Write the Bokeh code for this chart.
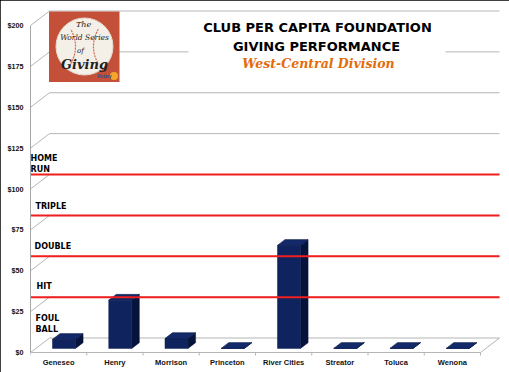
from bokeh.plotting import figure
from bokeh.models import Range1d, FixedTicker
from bokeh.core.properties import value
from bokeh.embed import file_html
from bokeh.resources import INLINE

# ---------------- data ----------------
categories = ["Geneseo", "Henry", "Morrison", "Princeton", "River Cities",
              "Streator", "Toluca", "Wenona"]
giving = [5.5, 29.5, 6.0, 0.0, 63.0, 0.0, 0.0, 0.0]
y_ticks = [0, 25, 50, 75, 100, 125, 150, 175, 200]
y_tick_labels = ["$0", "$25", "$50", "$75", "$100", "$125", "$150", "$175", "$200"]
thresholds = [25, 50, 75, 100]
zone_floors = [0, 25, 50, 75, 100]
zone_names = ["FOUL BALL", "HIT", "DOUBLE", "TRIPLE", "HOME RUN"]
title_lines = ["CLUB PER CAPITA FOUNDATION", "GIVING PERFORMANCE"]
subtitle = "West-Central Division"
logo_lines = ["The", "World Series", "of", "Giving"]

# ---------------- geometry (pseudo-3D) ----------------
PXX = 56.25   # px per category
PXY = 1.635   # px per dollar
DX = 19 / PXX     # depth shift in x (data units)
DY = 14.5 / PXY   # depth shift in y (data units)


def X(px):   # page px -> data x
    return (px - 30) / PXX


def Y(py):   # page py -> data y
    return (352 - py) / PXY


p = figure(width=509, height=372, output_backend="svg", toolbar_location=None,
           x_range=Range1d(0, X(503)), y_range=Range1d(Y(356), Y(4)),
           min_border_left=30, min_border_right=6, min_border_top=4,
           min_border_bottom=16, background_fill_color="white",
           border_fill_color="white", outline_line_color=None,
           styles={"outline": "2px solid black", "outline-offset": "-2px"})
p.xgrid.visible = False
p.ygrid.visible = False

n = len(categories)

# left axis (front)
ya = p.yaxis[0]
ya.ticker = FixedTicker(ticks=y_ticks)
ya.major_label_overrides = {t: l for t, l in zip(y_ticks, y_tick_labels)}
ya.major_label_text_font = "Liberation Sans"
ya.major_label_text_font_style = "bold"
ya.major_label_text_font_size = "7.2px"
ya.major_label_text_color = "#111111"
ya.major_label_standoff = 7
ya.major_tick_out = 0
ya.major_tick_in = 0
ya.minor_tick_out = 0
ya.minor_tick_in = 0
ya.axis_line_color = "#a6a6a6"
ya.bounds = (0, 200)

# bottom axis (categories)
xa = p.xaxis[0]
xa.ticker = FixedTicker(ticks=[i + 0.5 for i in range(n)])
xa.major_label_overrides = {i + 0.5: c for i, c in enumerate(categories)}
xa.major_label_text_font = "Liberation Sans"
xa.major_label_text_font_style = "bold"
xa.major_label_text_font_size = "7.5px"
xa.major_label_text_color = "#111111"
xa.major_label_standoff = 1
xa.major_tick_out = 0
xa.major_tick_in = 0
xa.minor_tick_out = 0
xa.minor_tick_in = 0
xa.axis_line_color = None

GRID = "#b5b5b5"
# back wall gridlines + side diagonals
gx0, gy0, gx1, gy1 = [], [], [], []
for t in y_ticks:
    gx0 += [0, DX]
    gy0 += [t, t + DY]
    gx1 += [DX, n + DX]
    gy1 += [t + DY, t + DY]
# floor front edge, right edge, category ticks
gx0 += [0, n]
gy0 += [0, 0]
gx1 += [n, n + DX]
gy1 += [0, DY]
for k in range(n + 1):
    gx0.append(k); gy0.append(0); gx1.append(k); gy1.append(Y(355))
p.segment(gx0, gy0, gx1, gy1, line_color=GRID, line_width=1)

# title backdrop
p.quad(left=X(188), right=X(445), bottom=Y(78), top=Y(17),
       fill_color="white", line_color=None)

# logo
p.quad(left=X(48.5), right=X(119), bottom=Y(81.5), top=Y(11),
       fill_color="#c5503a", line_color=None)
p.scatter([X(84)], [Y(46)], marker="circle", size=57,
          fill_color="#f4efe7", line_color="#e2d8cb", line_width=1)
p.arc([X(42), X(126)], [Y(46), Y(46)], radius=[33, 33], radius_units="screen",
      start_angle=[-0.55, 3.14159 - 0.55], end_angle=[0.55, 3.14159 + 0.55],
      line_color="#d06a5a", line_width=1.2, line_dash="2 1")
p.text([X(83), X(84), X(80)], [Y(24), Y(37), Y(50)], text=logo_lines[:3],
       text_font=value("DejaVu Serif"), text_font_style="italic",
       text_font_size=["8px", "7.5px", "7px"], text_color="#222222",
       text_align="center", text_baseline="middle")
p.text([X(84)], [Y(64)], text=[logo_lines[3]],
       text_font=value("DejaVu Serif"), text_font_style="bold italic",
       text_font_size="13px", text_color="#222222",
       text_align="center", text_baseline="middle")
p.scatter([X(113.5)], [Y(75.5)], marker="circle", size=8,
          fill_color="#f2a72a", line_color=None)
p.text([X(104)], [Y(76)], text=["Rotary"], text_font=value("Liberation Sans"),
       text_font_size="4.5px", text_color="#1f4e9c", text_font_style="bold",
       text_align="center", text_baseline="middle")

# title texts
p.text([X(317), X(316)], [Y(27), Y(46)], text=title_lines,
       text_font=value("DejaVu Sans"), text_font_style="bold",
       text_font_size="13px", text_color="#000000",
       text_align="center", text_baseline="middle")
p.text([X(318)], [Y(62.5)], text=[subtitle],
       text_font=value("DejaVu Serif"), text_font_style="bold italic",
       text_font_size="12.5px", text_color="#e36c09",
       text_align="center", text_baseline="middle")

# bars (front, side, top faces)
W = 0.41
F1 = 0.284
F2 = 0.68
ddx = (F2 - F1) * DX
fx, fy, sx, sy, tx, ty = [], [], [], [], [], []
for i, v in enumerate(giving):
    x0 = i + 0.5 - W / 2 + F1 * DX
    x1 = x0 + W
    b0 = F1 * DY
    b1 = F2 * DY
    fx.append([x0, x1, x1, x0]); fy.append([b0, b0, v + b0, v + b0])
    sx.append([x1, x1 + ddx, x1 + ddx, x1]); sy.append([b0, b1, v + b1, v + b0])
    tx.append([x0, x1, x1 + ddx, x0 + ddx]); ty.append([v + b0, v + b0, v + b1, v + b1])
p.patches(sx, sy, fill_color="#06143c", line_color="#06143c", line_width=0.5)
p.patches(fx, fy, fill_color="#0f245f", line_color="#0c1d4f", line_width=0.5)
p.patches(tx, ty, fill_color="#13296a", line_color="#081a48", line_width=0.7)

# threshold lines (on back wall)
p.segment([0] * len(thresholds), [t + DY for t in thresholds],
          [n + DX] * len(thresholds), [t + DY for t in thresholds],
          line_color="#f01e1e", line_width=2)

# zone labels
zone_left = [35, 36, 34, 35, 30]
zone_gap = [8.5, 10.5, 10, 8.5, 5]
lx, ly, lt = [], [], []
for f, name, left, gap in zip(zone_floors, zone_names, zone_left, zone_gap):
    words = name.split(" ")
    base_py = 352 - DY * PXY - f * PXY - gap
    for j, w in enumerate(reversed(words)):
        lx.append(X(left)); ly.append(Y(base_py - 11.5 * j)); lt.append(w)
p.text(lx, ly, text=lt, text_font=value("DejaVu Sans"), text_font_style="bold",
       text_font_size="8px", text_color="#000000",
       text_align="left", text_baseline="middle")

open("out.html", "w").write(file_html(p, INLINE))
